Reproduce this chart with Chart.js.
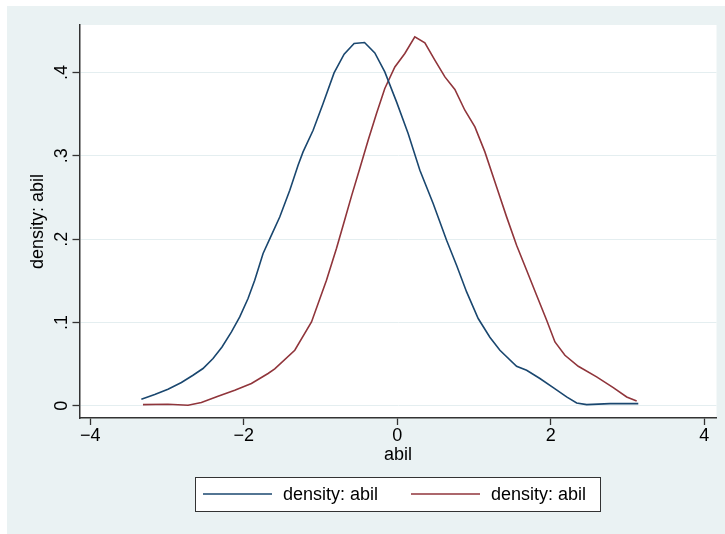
<!DOCTYPE html>
<html>
<head>
<meta charset="utf-8">
<script src="https://cdn.jsdelivr.net/npm/chart.js@4"></script>
<style>
html, body { margin: 0; padding: 0; background: #fff; }
canvas { display: block; }
</style>
</head>
<body>
<canvas id="chartCanvas" width="725" height="534"></canvas>
<script>
// density estimates
const blueX = [-3.334, -3.160, -2.987, -2.812, -2.661, -2.531, -2.400, -2.283, -2.160, -2.052, -1.944, -1.857,
  -1.748, -1.639, -1.531, -1.400, -1.292, -1.227, -1.096, -0.966, -0.823, -0.692, -0.562, -0.426, -0.292,
  -0.162, -0.009, 0.142, 0.295, 0.468, 0.643, 0.773, 0.904, 1.055, 1.207, 1.338, 1.555, 1.686, 1.859,
  2.033, 2.207, 2.338, 2.468, 2.772, 3.141];
const blueY = [0.0078, 0.0134, 0.0198, 0.0279, 0.0366, 0.0447, 0.0567, 0.0706, 0.0886, 0.1066, 0.1287, 0.1507,
  0.1827, 0.2047, 0.2266, 0.2587, 0.2887, 0.3047, 0.3307, 0.3628, 0.3995, 0.4220, 0.4348, 0.4360, 0.4235,
  0.4007, 0.3647, 0.3268, 0.2827, 0.2427, 0.1987, 0.1687, 0.1366, 0.1047, 0.0822, 0.0666, 0.0474, 0.0426, 0.0327,
  0.0218, 0.0106, 0.0034, 0.0014, 0.0026, 0.0026];

const redX = [-3.313, -2.987, -2.726, -2.552, -2.335, -2.117, -1.900, -1.683, -1.596, -1.335, -1.117, -0.922,
  -0.791, -0.683, -0.596, -0.488, -0.379, -0.270, -0.162, -0.031, 0.099, 0.229, 0.360, 0.490, 0.621, 0.751,
  0.881, 1.012, 1.142, 1.295, 1.425, 1.555, 1.686, 1.816, 1.947, 2.055, 2.185, 2.359, 2.598, 2.815, 2.990, 3.120];
const redY = [0.0014, 0.0018, 0.0006, 0.0038, 0.0114, 0.0186, 0.0267, 0.0387, 0.0442, 0.0666, 0.1006, 0.1507,
  0.1890, 0.2235, 0.2516, 0.2848, 0.3187, 0.3508, 0.3808, 0.4067, 0.4228, 0.4427, 0.4355, 0.4148, 0.3947, 0.3796,
  0.3547, 0.3347, 0.3047, 0.2627, 0.2267, 0.1927, 0.1627, 0.1327, 0.1026, 0.0766, 0.0606, 0.0474, 0.0346, 0.0218, 0.0106, 0.0058];

const seriesLabels = ['density: abil', 'density: abil'];
const seriesColors = ['#1a476f', '#90353b'];
const xTicks = [-4, -2, 0, 2, 4];
const yTicks = [0, 0.1, 0.2, 0.3, 0.4];

const toPoints = (xs, ys) => xs.map((x, i) => ({ x: x, y: ys[i] }));

// panel background + white plot region
const backgroundPlugin = {
    id: 'stataBackground',
    beforeDraw(chart) {
        const c = chart.ctx;
        const a = chart.chartArea;
        c.save();
        c.fillStyle = '#ffffff';
        c.fillRect(0, 0, chart.width, chart.height);
        c.fillStyle = '#eaf2f3';
        c.fillRect(7, 6, chart.width - 7, chart.height - 6);
        c.fillStyle = '#ffffff';
        c.fillRect(a.left, a.top, a.right - a.left, a.bottom - a.top);
        c.restore();
    }
};

// boxed legend under the plot
const boxLegendPlugin = {
    id: 'boxLegend',
    afterDraw(chart) {
        const c = chart.ctx;
        const box = { x: 195, y: 477, w: 405, h: 34 };
        const cy = box.y + box.h / 2;
        c.save();
        c.fillStyle = '#ffffff';
        c.fillRect(box.x, box.y, box.w, box.h);
        c.strokeStyle = '#333333';
        c.lineWidth = 1;
        c.strokeRect(box.x + 0.5, box.y + 0.5, box.w, box.h);
        const starts = [203, 411];
        chart.data.datasets.forEach((ds, i) => {
            c.strokeStyle = ds.borderColor;
            c.lineWidth = 1.6;
            c.beginPath();
            c.moveTo(starts[i], cy);
            c.lineTo(starts[i] + 69, cy);
            c.stroke();
            c.fillStyle = '#000000';
            c.font = '18px "Liberation Sans", Arial, sans-serif';
            c.textBaseline = 'middle';
            c.textAlign = 'left';
            c.fillText(ds.label, starts[i] + 80, cy + 1);
        });
        c.restore();
    }
};

const fontSpec = { family: '"Liberation Sans", Arial, sans-serif', size: 18 };

const chart = new Chart(document.getElementById('chartCanvas').getContext('2d'), {
    type: 'line',
    data: {
        datasets: [
            {
                label: seriesLabels[0],
                data: toPoints(blueX, blueY),
                borderColor: seriesColors[0],
                borderWidth: 1.6,
                pointRadius: 0,
                tension: 0,
                fill: false
            },
            {
                label: seriesLabels[1],
                data: toPoints(redX, redY),
                borderColor: seriesColors[1],
                borderWidth: 1.6,
                pointRadius: 0,
                tension: 0,
                fill: false
            }
        ]
    },
    options: {
        responsive: false,
        animation: false,
        devicePixelRatio: 1,
        layout: { padding: { top: 25, right: 8.5, bottom: 0, left: 0 } },
        plugins: {
            legend: { display: false },
            tooltip: { enabled: false }
        },
        scales: {
            x: {
                type: 'linear',
                min: -4.14,
                max: 4.16,
                afterBuildTicks: (scale) => { scale.ticks = xTicks.map(v => ({ value: v })); },
                afterFit: (scale) => { scale.height = 116; },
                ticks: {
                    color: '#000',
                    font: fontSpec,
                    padding: 0,
                    maxRotation: 0,
                    callback: (v) => v < 0 ? '\u2212' + Math.abs(v) : String(v)
                },
                grid: { drawOnChartArea: false, drawTicks: true, tickLength: 7, tickColor: '#333', tickWidth: 1.3 },
                border: { display: true, color: '#333', width: 1.5 },
                title: { display: true, text: 'abil', color: '#000', font: fontSpec, padding: { top: 0, bottom: 68 } }
            },
            y: {
                type: 'linear',
                min: -0.0147,
                max: 0.457,
                afterBuildTicks: (scale) => { scale.ticks = yTicks.map(v => ({ value: v })); },
                afterFit: (scale) => { scale.width = 79.5; },
                ticks: {
                    color: '#000',
                    font: fontSpec,
                    padding: 3,
                    minRotation: 90,
                    maxRotation: 90,
                    crossAlign: 'center',
                    callback: (v) => v === 0 ? '0' : v.toFixed(1).replace(/^0/, '')
                },
                grid: { color: '#e4eef0', lineWidth: 1, drawTicks: true, tickLength: 7, tickColor: '#333', tickWidth: 1.3 },
                border: { display: true, color: '#333', width: 1.5 },
                title: { display: true, text: 'density: abil', color: '#000', font: fontSpec, padding: { top: 27, bottom: 0 } }
            }
        }
    },
    plugins: [backgroundPlugin, boxLegendPlugin]
});
</script>
</body>
</html>
